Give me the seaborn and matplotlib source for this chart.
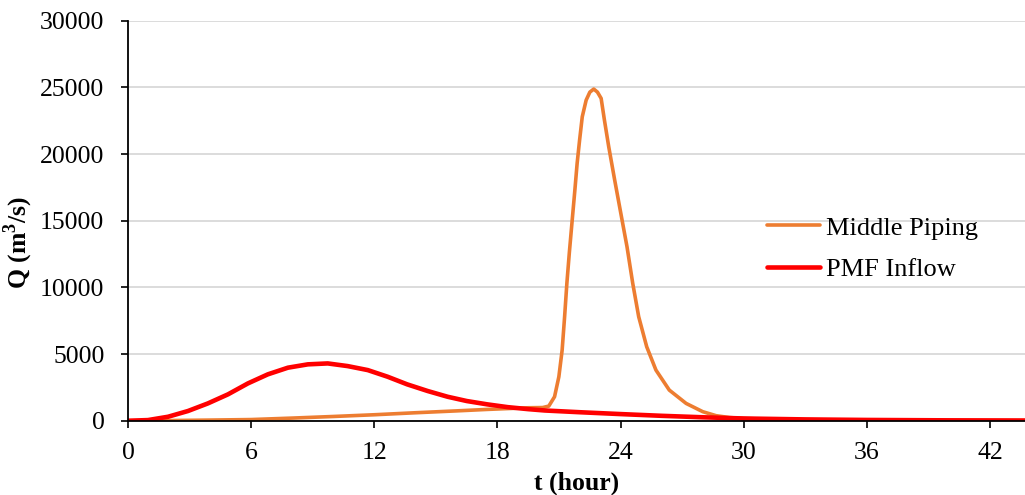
import matplotlib
matplotlib.use("Agg")
import matplotlib.pyplot as plt
import seaborn as sns
import pandas as pd

# Hydrograph of the middle piping breach outflow
piping_t = [0, 2, 4, 6, 8, 10, 12, 14, 16, 17.5, 19.5, 20.2, 20.5, 20.78,
            20.99, 21.15, 21.27, 21.38, 21.5, 21.64, 21.77, 21.88, 22.0,
            22.13, 22.32, 22.5, 22.69, 22.87, 23.05, 23.21, 23.42, 23.71,
            24.01, 24.31, 24.59, 24.88, 25.27, 25.72, 26.37, 27.19, 28.0,
            28.65, 29.3, 30, 31, 33, 36, 40, 44]
piping_q = [0, 15, 50, 90, 200, 320, 450, 600, 740, 850, 975, 990, 1100,
            1800, 3300, 5300, 7800, 10300, 12600, 15050, 17300, 19300, 21050,
            22800, 24050, 24650, 24880, 24650, 24180, 22550, 20550, 18050,
            15550, 13050, 10300, 7800, 5550, 3800, 2300, 1300, 680, 380, 240,
            170, 120, 80, 45, 25, 15]

# Probable maximum flood inflow hydrograph
pmf_t = [0, 0.97, 1.95, 2.92, 3.89, 4.87, 5.84, 6.81, 7.79, 8.76, 9.73,
         10.7, 11.68, 12.65, 13.6, 14.6, 15.57, 16.5, 17.5, 18.5, 19.5, 20.3,
         22, 24, 26, 28, 30, 33, 36, 40, 44]
pmf_q = [0, 50, 300, 730, 1300, 1980, 2800, 3480, 3980, 4230, 4300, 4100,
         3800, 3300, 2730, 2230, 1800, 1480, 1230, 1020, 870, 770, 640, 500,
         370, 260, 170, 100, 60, 30, 15]

series_names = ["Middle Piping", "PMF Inflow"]
x_ticks = [0, 6, 12, 18, 24, 30, 36, 42]
y_ticks = [0, 5000, 10000, 15000, 20000, 25000, 30000]

sns.set_theme(style="white")
plt.rcParams["font.family"] = ["Liberation Serif", "DejaVu Serif"]
plt.rcParams["text.color"] = "black"
plt.rcParams["axes.labelcolor"] = "black"
plt.rcParams["mathtext.fontset"] = "custom"
plt.rcParams["mathtext.rm"] = "Liberation Serif"
plt.rcParams["mathtext.bf"] = "Liberation Serif:bold"

fig = plt.figure(figsize=(10.25, 4.95), dpi=100)
ax = fig.add_axes([0.1249, 0.150, 0.8751, 0.808])

piping_df = pd.DataFrame({"t": piping_t, "Q": piping_q})
pmf_df = pd.DataFrame({"t": pmf_t, "Q": pmf_q})

sns.lineplot(data=piping_df, x="t", y="Q", ax=ax, color="#ED7D31",
             linewidth=2.6, label=series_names[0], sort=False,
             solid_joinstyle="round", solid_capstyle="round")
sns.lineplot(data=pmf_df, x="t", y="Q", ax=ax, color="#FF0000",
             linewidth=3.3, label=series_names[1], sort=False,
             solid_joinstyle="round", solid_capstyle="round")

ax.set_xlim(0, 43.7)
ax.set_ylim(0, 30000)
ax.set_xticks(x_ticks)
ax.set_yticks(y_ticks)
ax.set_xticklabels([str(v) for v in x_ticks])
ax.set_yticklabels([str(v) for v in y_ticks])

ax.yaxis.grid(True, color="#D9D9D9", linewidth=1.3)
ax.xaxis.grid(False)
ax.set_axisbelow(True)

for side in ["top", "right"]:
    ax.spines[side].set_visible(False)
for side in ["left", "bottom"]:
    ax.spines[side].set_color("black")
    ax.spines[side].set_linewidth(1.3)

ax.tick_params(axis="both", which="major", direction="out", length=5,
               width=1.2, color="black", labelsize=18.5, labelcolor="black",
               left=True, bottom=True)
ax.tick_params(axis="x", pad=10)
ax.tick_params(axis="y", pad=12)

ax.set_xlabel("t (hour)", fontsize=18.5, fontweight="bold", labelpad=6,
              color="black")
ax.set_ylabel(r"Q (m$^\mathbf{3}$/s)", fontsize=18.5, fontweight="bold",
              color="black")
ax.yaxis.set_label_coords(-0.1035, 0.447)

leg = ax.legend(loc="center left", bbox_to_anchor=(0.686, 0.43),
                frameon=False, fontsize=19, handlelength=2.0,
                handletextpad=0.25, labelspacing=0.7, labelcolor="black")

fig.savefig("out.png", dpi=100)
